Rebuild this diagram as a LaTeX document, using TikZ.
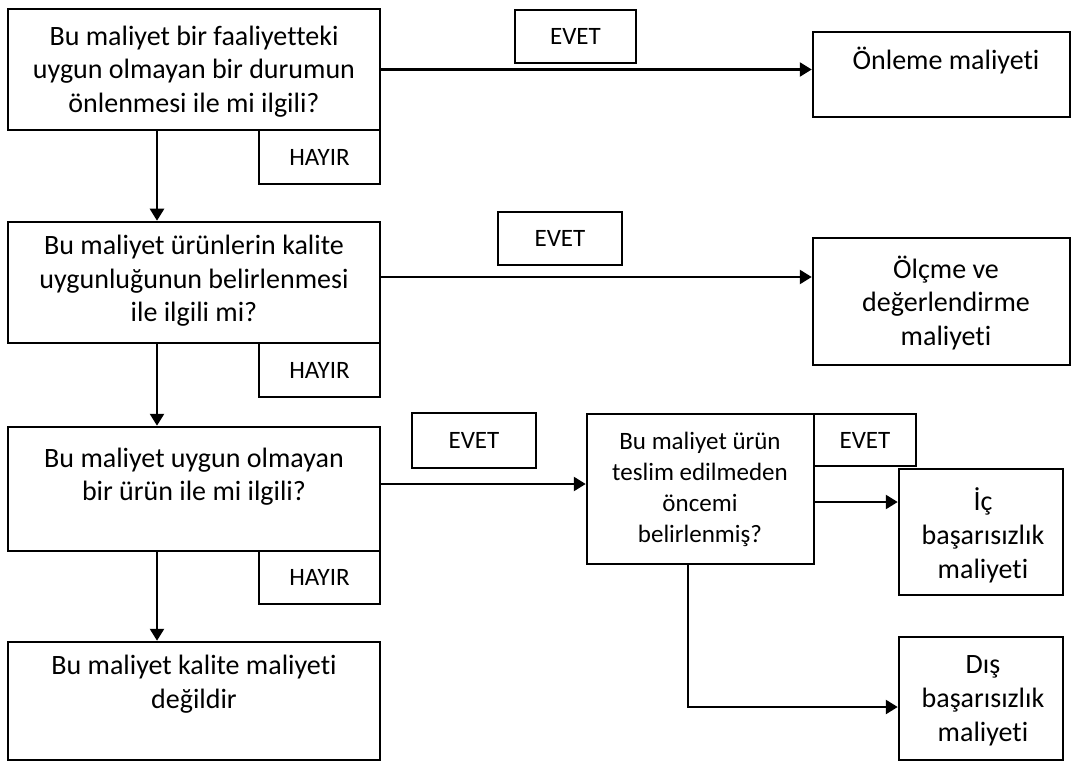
\documentclass[tikz,border=0pt]{standalone}
\usepackage{fontspec}
\setmainfont[Ligatures=NoCommon]{Carlito}
\usetikzlibrary{arrows.meta}
% uniform line strut so multi-line blocks centre on their lines
\newcommand{\ls}{\rule[-0.27em]{0pt}{1em}}
\begin{document}
\begin{tikzpicture}[x=1pt,y=-1pt,
  frame/.style={draw=black, line width=2.5pt, rectangle, inner sep=0pt},
  big/.style={font=\fontsize{28}{33.5}\selectfont, align=center, inner sep=0pt},
  mid/.style={font=\fontsize{25}{31}\selectfont, align=center, inner sep=0pt},
  tag/.style={frame, font=\fontsize{25}{30}\selectfont},
  arr/.style={line width=2.5pt, -{Triangle[length=12pt,width=14pt]}}]
\useasboundingbox (0,0) rectangle (1073,762);

% main question column
\node[frame, minimum width=372pt, minimum height=121pt] (b1) at (194,69.5) {};
\node[frame, minimum width=372pt, minimum height=121pt] (b2) at (194,282.5) {};
\node[frame, minimum width=372pt, minimum height=124pt] (b3) at (194,489) {};
\node[frame, minimum width=372pt, minimum height=118pt] (b5) at (194,701) {};

\node[big] (t1) at (194,72.5) {\ls Bu maliyet bir faaliyetteki\\\ls uygun olmayan bir durumun\\\ls önlenmesi ile mi ilgili?};
\node[big] (t2) at (194,282) {\ls Bu maliyet ürünlerin kalite\\\ls uygunluğunun belirlenmesi\\\ls ile ilgili mi?};
\node[big] (t3) at (194,477.5) {\ls Bu maliyet uygun olmayan\\\ls bir ürün ile mi ilgili?};
\node[big] (t5) at (194,685) {\ls Bu maliyet kalite maliyeti\\\ls değildir};

% HAYIR tags
\node[tag, minimum width=121pt, minimum height=54pt] (h1) at (319.5,157) {HAYIR};
\node[tag, minimum width=121pt, minimum height=54pt] (h2) at (319.5,370) {HAYIR};
\node[tag, minimum width=121pt, minimum height=53pt] (h3) at (319.5,577.5) {HAYIR};

% EVET tags
\node[tag, minimum width=121pt, minimum height=53pt] (e1) at (575.5,36.5) {EVET};
\node[tag, minimum width=124pt, minimum height=53pt] (e2) at (560,238.5) {EVET};
\node[tag, minimum width=124pt, minimum height=55pt] (e3) at (474,440.5) {EVET};

% outcome boxes
\node[frame, minimum width=257pt, minimum height=85pt] (onl) at (941.5,74.5) {};
\node[big] (tonl) at (946,62.5) {\ls Önleme maliyeti};
\node[frame, minimum width=257pt, minimum height=127pt] (olc) at (941.5,301.5) {};
\node[big] (tolc) at (946,304.5) {\ls Ölçme ve\\\ls değerlendirme\\\ls maliyeti};

% delivery question and its branches
\node[frame, minimum width=227pt, minimum height=150pt] (dec) at (700.5,489) {};
\node[mid] (tdec) at (700,490) {\ls Bu maliyet ürün\\\ls teslim edilmeden\\\ls öncemi\\\ls belirlenmiş?};
\node[tag, minimum width=102pt, minimum height=52pt] (e4) at (865,440) {EVET};
\node[frame, minimum width=164pt, minimum height=126pt] (ic) at (981,532) {};
\node[big, font=\fontsize{28}{34}\selectfont] (tic) at (983,536.5) {\ls İç\\\ls başarısızlık\\\ls maliyeti};
\node[frame, minimum width=164pt, minimum height=123pt] (dis) at (981,698.5) {};
\node[big, font=\fontsize{28}{34}\selectfont] (tdis) at (983,701) {\ls Dış\\\ls başarısızlık\\\ls maliyeti};

% connectors
\draw[arr] (b1.east) -- (b1.east -| onl.west);
\draw[arr] ([yshift=5.5pt]b2.east) -- ([yshift=5.5pt]b2.east -| olc.west);
\draw[arr] ([yshift=5pt]b3.east) -- ([yshift=5pt]b3.east -| dec.west);
\draw[arr] ([xshift=-37pt]b1.south) -- ([xshift=-37pt]b2.north);
\draw[arr] ([xshift=-37pt]b2.south) -- ([xshift=-37pt]b3.north);
\draw[arr] ([xshift=-37pt]b3.south) -- ([xshift=-37pt]b5.north);
\draw[arr] ([yshift=-13pt]dec.east) -- ([yshift=-13pt]dec.east -| ic.west);
\draw[arr] ([xshift=-12.5pt]dec.south) |- ([yshift=-8.5pt]dis.west);
\end{tikzpicture}
\end{document}
